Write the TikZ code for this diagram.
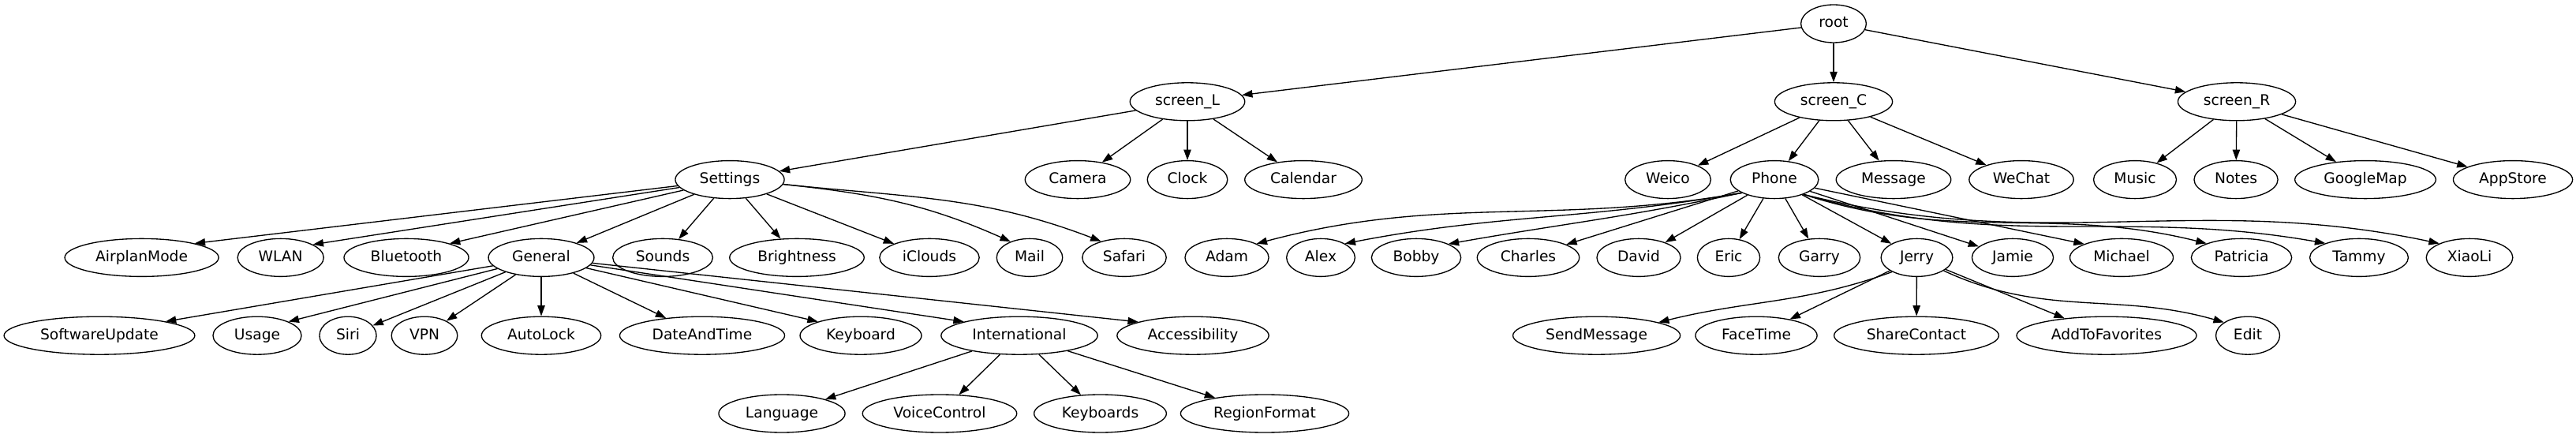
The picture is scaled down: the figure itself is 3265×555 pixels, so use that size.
\documentclass[tikz,border=0pt]{standalone}
\usepackage{fontspec}
\setmainfont{DejaVu Sans}
\usepackage{tikz}
\usetikzlibrary{shapes.geometric,arrows.meta}

\begin{document}
\begin{tikzpicture}[
        x=0.75pt, y=-0.75pt,
        font=\fontsize{14pt}{16pt}\selectfont,
        app/.style={ellipse, draw, line width=1pt, inner xsep=7.92pt, inner ysep=3.96pt,
            minimum width=54pt, minimum height=36pt, text height=10pt, text depth=2.5pt},
        arrow/.style={-{Triangle[length=10pt,width=7pt]}, line width=1pt}
    ]
        \fill[white] (0,0) rectangle (3265,555);

        % levels 0 and 1
        \node[app] (root) at (2324,30) {root};
        \node[app] (scrL) at (1505,128.8) {screen\_L};
        \node[app] (scrC) at (2324,128.8) {screen\_C};
        \node[app] (scrR) at (2835,128.8) {screen\_R};

        % level 2
        \node[app] (settings) at (925,227.6) {Settings};
        \node[app] (camera) at (1366,227.6) {Camera};
        \node[app] (clock) at (1505,227.6) {Clock};
        \node[app] (calendar) at (1652,227.6) {Calendar};
        \node[app] (weico) at (2114,227.6) {Weico};
        \node[app] (phone) at (2249,227.6) {Phone};
        \node[app] (message) at (2400,227.6) {Message};
        \node[app] (wechat) at (2562,227.6) {WeChat};
        \node[app] (music) at (2706,227.6) {Music};
        \node[app] (notes) at (2834,227.6) {Notes};
        \node[app] (gmap) at (2998,227.6) {GoogleMap};
        \node[app] (appstore) at (3185,227.6) {AppStore};

        % level 3
        \node[app] (airplan) at (179.6,326.4) {AirplanMode};
        \node[app] (wlan) at (355.7,326.4) {WLAN};
        \node[app] (bluetooth) at (515,326.4) {Bluetooth};
        \node[app] (general) at (686,326.4) {General};
        \node[app] (sounds) at (840,326.4) {Sounds};
        \node[app] (bright) at (1010,326.4) {Brightness};
        \node[app] (icloud) at (1178,326.4) {iClouds};
        \node[app] (mail) at (1305,326.4) {Mail};
        \node[app] (safari) at (1425,326.4) {Safari};
        \node[app] (adam) at (1555,326.4) {Adam};
        \node[app] (alex) at (1674,326.4) {Alex};
        \node[app] (bobby) at (1795,326.4) {Bobby};
        \node[app] (charles) at (1937,326.4) {Charles};
        \node[app] (david) at (2077,326.4) {David};
        \node[app] (eric) at (2191,326.4) {Eric};
        \node[app] (garry) at (2306,326.4) {Garry};
        \node[app] (jerry) at (2429.5,326.4) {Jerry};
        \node[app] (jamie) at (2551,326.4) {Jamie};
        \node[app] (michael) at (2689,326.4) {Michael};
        \node[app] (patricia) at (2841,326.4) {Patricia};
        \node[app] (tammy) at (2990,326.4) {Tammy};
        \node[app] (xiaoli) at (3130,326.4) {XiaoLi};

        % level 4
        \node[app] (swupd) at (126,425.2) {SoftwareUpdate};
        \node[app] (usage) at (326,425.2) {Usage};
        \node[app] (siri) at (441,425.2) {Siri};
        \node[app] (vpn) at (538,425.2) {VPN};
        \node[app] (autolock) at (686,425.2) {AutoLock};
        \node[app] (datetime) at (890,425.2) {DateAndTime};
        \node[app] (keyboard) at (1091,425.2) {Keyboard};
        \node[app] (intl) at (1292,425.2) {International};
        \node[app] (access) at (1512,425.2) {Accessibility};
        \node[app] (sendmsg) at (2023.6,425.2) {SendMessage};
        \node[app] (facetime) at (2226,425.2) {FaceTime};
        \node[app] (share) at (2429,425.2) {ShareContact};
        \node[app] (addfav) at (2670,425.2) {AddToFavorites};
        \node[app] (edit) at (2849,425.2) {Edit};

        % level 5
        \node[app] (language) at (991,524) {Language};
        \node[app] (voice) at (1191,524) {VoiceControl};
        \node[app] (keyboards) at (1394.5,524) {Keyboards};
        \node[app] (region) at (1603,524) {RegionFormat};

        \foreach \src/\dst in {root/scrL, root/scrC, root/scrR,
                scrL/settings, scrL/camera, scrL/clock, scrL/calendar,
                scrC/weico, scrC/phone, scrC/message, scrC/wechat,
                scrR/music, scrR/notes, scrR/gmap, scrR/appstore,
                settings/airplan.15, settings/wlan.22, settings/bluetooth.18, settings/general,
                settings/sounds, settings/bright, settings/icloud,
                general/swupd.12, general/usage.24, general/siri, general/vpn, general/autolock,
                general/datetime, general/keyboard.162, general/intl.166, general/access.166,
                intl/language, intl/voice, intl/keyboards, intl/region,
                phone/charles.19, phone/david, phone/eric, phone/garry, phone/jerry,
                phone/jamie, phone/michael.160,
                jerry/facetime, jerry/share, jerry/addfav} {
            \draw[arrow] (\src) -- (\dst);
        }

        % bent edges
        \draw[arrow] (settings.-5) to[out=-6, in=156] (mail.140);
        \draw[arrow] (settings.-5) to[out=-6, in=159] (safari.145);
        \draw[arrow] (phone.202) to[out=190, in=15] (adam.25);
        \draw[arrow] (phone.202) to[out=190, in=11] (alex.30);
        \draw[arrow] (phone.202) to[out=192, in=10] (bobby.23);
        \draw[arrow] (phone.-27) to[out=-18, in=166] (patricia.158);
        \draw[arrow] (phone.-27) to[out=-16, in=170] (tammy.157);
        \draw[arrow] (phone.-27) to[out=-14, in=168] (xiaoli.155);
        \draw[arrow] (jerry.210) to[out=200, in=14] (sendmsg.12);
        \draw[arrow] (jerry.-26) to[out=-25, in=164] (edit.151);
    \end{tikzpicture}
\end{document}
